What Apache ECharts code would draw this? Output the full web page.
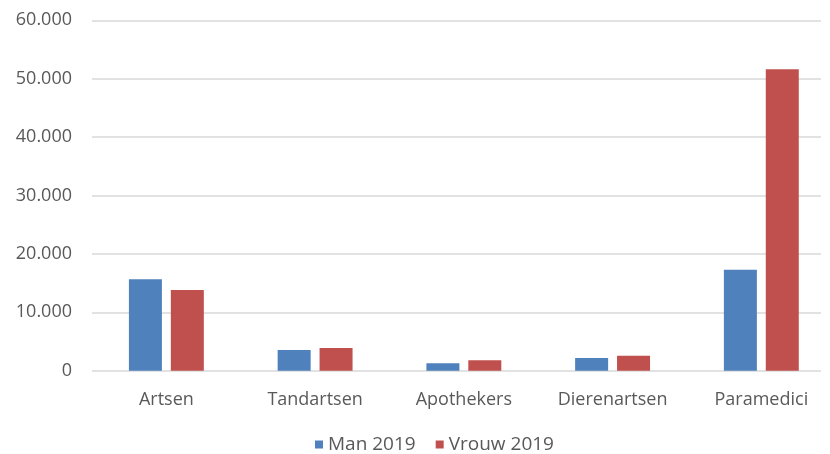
<!DOCTYPE html>
<html>
<head>
<meta charset="utf-8">
<script src="https://cdn.jsdelivr.net/npm/echarts@6/dist/echarts.min.js"></script>
<style>html,body{margin:0;padding:0;background:#fff}#c{width:830px;height:454px}</style>
</head>
<body>
<div id="c"></div>
<script>
var categories = ['Artsen', 'Tandartsen', 'Apothekers', 'Dierenartsen', 'Paramedici'];
var man2019 = [15650, 3550, 1270, 2170, 17300];
var vrouw2019 = [13800, 3900, 1780, 2570, 51600];
var seriesNames = ['Man 2019', 'Vrouw 2019'];
var yTicks = { min: 0, max: 60000, interval: 10000 };

var FONT = '"Open Sans", sans-serif';
var TXT = '#595959';
function fmt(v) { return String(v).replace(/\B(?=(\d{3})+(?!\d))/g, '.'); }

var chart = echarts.init(document.getElementById('c'), null, { renderer: 'canvas' });
chart.setOption({
  animation: false,
  backgroundColor: '#fff',
  textStyle: { fontFamily: FONT },
  grid: [
    { left: 92, right: 9, top: 20.3, bottom: 83.3, outerBoundsMode: 'none' },
    { left: 92, width: 743.7, top: 20.3, bottom: 83.3, outerBoundsMode: 'none' }
  ],
  legend: {
    left: 310, bottom: -5,
    itemWidth: 8, itemHeight: 8, itemGap: 20,
    icon: 'rect',
    data: seriesNames,
    textStyle: { color: TXT, fontSize: 19, fontFamily: FONT }
  },
  xAxis: [
    { gridIndex: 0, type: 'category', data: categories, show: false },
    { gridIndex: 1, type: 'category', data: categories,
      axisLine: { show: false }, axisTick: { show: false },
      axisLabel: { color: TXT, fontSize: 18, fontFamily: FONT, margin: 20 } }
  ],
  yAxis: [
    { gridIndex: 0, type: 'value', min: yTicks.min, max: yTicks.max, interval: yTicks.interval,
      axisLine: { show: false }, axisTick: { show: false },
      axisLabel: { color: TXT, fontSize: 18, fontFamily: FONT, margin: 20, formatter: fmt },
      splitLine: { lineStyle: { color: '#D9D9D9', width: 1.5 } } },
    { gridIndex: 1, type: 'value', min: yTicks.min, max: yTicks.max, interval: yTicks.interval, show: false }
  ],
  series: [
    { name: seriesNames[0], type: 'bar', xAxisIndex: 1, yAxisIndex: 1, data: man2019,
      barWidth: 33, barGap: '27%', itemStyle: { color: '#4F81BD' } },
    { name: seriesNames[1], type: 'bar', xAxisIndex: 1, yAxisIndex: 1, data: vrouw2019,
      barWidth: 33, barGap: '27%', itemStyle: { color: '#C0504D' } }
  ]
});
</script>
</body>
</html>
